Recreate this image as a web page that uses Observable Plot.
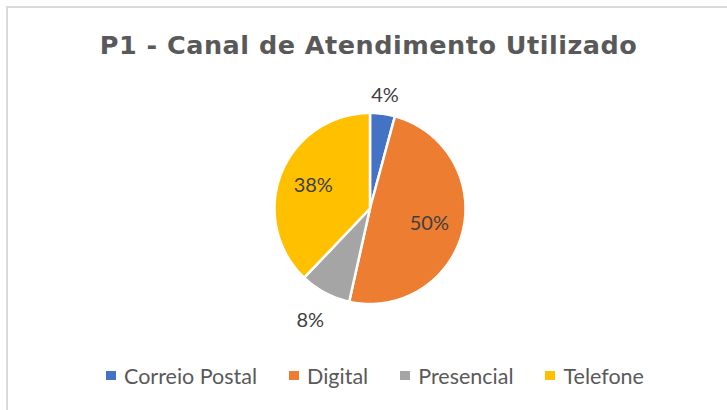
<!DOCTYPE html>
<html>
<head>
<meta charset="utf-8">
<script src="https://cdn.jsdelivr.net/npm/d3@7"></script>
<script src="https://cdn.jsdelivr.net/npm/@observablehq/plot@0.6"></script>
<style>
  html, body { margin: 0; padding: 0; background: #fff; }
  #wrap { position: relative; width: 727px; height: 410px; overflow: hidden; background: #fff; }
  #frame { position: absolute; left: 6px; top: 6px; width: 800px; height: 500px;
           border-left: 2px solid #d9d9d9; border-top: 2px solid #d9d9d9; }
  #title { position: absolute; left: 0; width: 737px; top: 30px; text-align: center;
           font-family: "DejaVu Sans", Verdana, sans-serif; font-weight: bold; font-size: 25.5px;
           letter-spacing: 0.5px; line-height: normal;
           color: #595959; white-space: nowrap; }
  #chart { position: absolute; left: 0; top: 78px; }
  #legend { position: absolute; left: 106px; top: 362.5px; display: flex; justify-content: flex-start;
            gap: 32px; font-family: Lato, "Open Sans", sans-serif; font-size: 21.5px; color: #595959; }
  .item { display: flex; align-items: center; gap: 8px; white-space: nowrap; }
  .sw { width: 10px; height: 9px; display: inline-block; }
</style>
</head>
<body>
<div id="wrap">
  <div id="frame"></div>
  <div id="title"></div>
  <div id="chart"></div>
  <div id="legend"></div>
</div>
<script>
// ---- data ----
const title = "P1 - Canal de Atendimento Utilizado";
const categories = ["Correio Postal", "Digital", "Presencial", "Telefone"];
const values = [4.2, 49.3, 8.6, 37.9];
const labels = ["4%", "50%", "8%", "38%"];
const colors = ["#4472C4", "#ED7D31", "#A5A5A5", "#FFC000"];

// ---- layout ----
const W = 727, H = 260, R = 95.5, CX = 369.5, CY = 130;

const total = d3.sum(values);
const slices = [];
const pts = [];
let acc = 0;
values.forEach((v, i) => {
  const a0 = acc / total * 2 * Math.PI;
  acc += v;
  const a1 = acc / total * 2 * Math.PI;
  pts.push({cat: categories[i], x: 0, y: 0});
  const n = Math.max(2, Math.ceil((a1 - a0) / (Math.PI / 180)));
  for (let k = 0; k <= n; k++) {
    const a = a0 + (a1 - a0) * k / n;
    pts.push({cat: categories[i], x: Math.sin(a), y: Math.cos(a)});
  }
  const mid = (a0 + a1) / 2;
  const outside = v / total < 0.1;
  const rf = outside ? (Math.abs(Math.cos(mid)) > 0.95 ? 1.19 : 1.33) : 0.64;
  slices.push({cat: categories[i], label: labels[i], x: Math.sin(mid) * rf, y: Math.cos(mid) * rf});
});

document.getElementById("title").textContent = title;

const plot = Plot.plot({
  width: W, height: H,
  margin: 0,
  x: {domain: [-CX / R, (W - CX) / R], axis: null},
  y: {domain: [-(H - CY) / R, CY / R], axis: null},
  color: {domain: categories, range: colors},
  style: {background: "transparent", overflow: "visible"},
  marks: [
    Plot.line(pts, {x: "x", y: "y", z: "cat", fill: "cat", stroke: "white", strokeWidth: 2.5,
      strokeLinejoin: "round", curve: "linear-closed"}),
    Plot.text(slices, {x: "x", y: "y", text: "label", fill: "#404040", fontSize: 20,
      fontFamily: "Lato, 'Open Sans', sans-serif"})
  ]
});
document.getElementById("chart").appendChild(plot);

const leg = document.getElementById("legend");
categories.forEach((c, i) => {
  const it = document.createElement("div");
  it.className = "item";
  const sw = document.createElement("span");
  sw.className = "sw";
  sw.style.background = colors[i];
  const t = document.createElement("span");
  t.textContent = c;
  it.appendChild(sw); it.appendChild(t);
  leg.appendChild(it);
});
</script>
</body>
</html>
